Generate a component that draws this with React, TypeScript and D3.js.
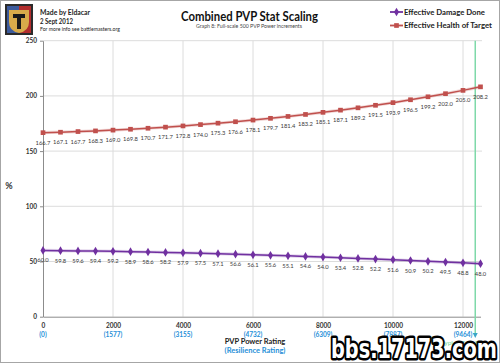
import React, { useEffect, useRef } from "react";
import * as d3 from "d3";

// PVP power rating steps of 500
const pvpPower = [
  0, 500, 1000, 1500, 2000, 2500, 3000, 3500, 4000, 4500, 5000, 5500, 6000,
  6500, 7000, 7500, 8000, 8500, 9000, 9500, 10000, 10500, 11000, 11500, 12000,
  12500,
];
const damageDone = [
  60.0, 59.8, 59.6, 59.4, 59.2, 58.9, 58.6, 58.2, 57.9, 57.5, 57.1, 56.6, 56.1,
  55.6, 55.1, 54.6, 54.0, 53.4, 52.8, 52.2, 51.6, 50.9, 50.2, 49.5, 48.8, 48.0,
];
const healthOfTarget = [
  166.7, 167.1, 167.7, 168.3, 169.0, 169.8, 170.7, 171.7, 172.8, 174.0, 175.3,
  176.6, 178.1, 179.7, 181.4, 183.2, 185.1, 187.1, 189.2, 191.5, 193.9, 196.5,
  199.2, 202.0, 205.0, 208.2,
];
const xTicks = [0, 2000, 4000, 6000, 8000, 10000, 12000];
const resilienceLabels = ["(0)", "(1577)", "(3155)", "(4732)", "(6309)", "(7887)", "(9464)"];
const yTicks = [0, 50, 100, 150, 200, 250];
const s12Max = 12350;

const W = 500;
const H = 363;
const FONT = "Lato, 'Open Sans', sans-serif";

const App = () => {
  const ref = useRef<HTMLDivElement>(null);

  useEffect(() => {
    document.body.style.margin = "0";
    d3.select(ref.current).selectAll("svg").remove();
    const svg = d3
      .select(ref.current)
      .append("svg")
      .attr("width", W)
      .attr("height", H)
      .style("display", "block")
      .style("font-family", FONT);

    svg.append("rect").attr("width", W).attr("height", H).attr("fill", "#fff");
    svg
      .append("rect")
      .attr("x", 0.5)
      .attr("y", 0.5)
      .attr("width", W - 1)
      .attr("height", H - 1)
      .attr("fill", "none")
      .attr("stroke", "#a6a6a6");

    const x = d3.scaleLinear().domain([0, 12500]).range([43, 480.5]);
    const y = d3.scaleLinear().domain([0, 250]).range([316.7, 40.7]);

    // gridlines
    svg
      .append("g")
      .selectAll("line")
      .data(yTicks.slice(1))
      .join("line")
      .attr("x1", x(0))
      .attr("x2", 482)
      .attr("y1", (d) => y(d))
      .attr("y2", (d) => y(d))
      .attr("stroke", "#dcdcdc")
      .attr("stroke-width", 1);
    svg
      .append("g")
      .selectAll("line")
      .data(xTicks.slice(1))
      .join("line")
      .attr("x1", (d) => x(d))
      .attr("x2", (d) => x(d))
      .attr("y1", y(0))
      .attr("y2", y(250))
      .attr("stroke", "#dcdcdc")
      .attr("stroke-width", 1);

    // axes
    const yAxis = svg
      .append("g")
      .attr("transform", `translate(${x(0)},0)`)
      .call(d3.axisLeft(y).tickValues(yTicks).tickSize(3).tickSizeOuter(0));
    yAxis.select(".domain").attr("stroke", "#8c8c8c");
    yAxis.selectAll(".tick line").attr("stroke", "#8c8c8c");
    yAxis
      .selectAll(".tick text")
      .attr("font-family", FONT)
      .attr("font-size", 6.5)
      .attr("font-weight", "bold")
      .attr("fill", "#333")
      .attr("x", -6);

    const xAxis = svg
      .append("g")
      .attr("transform", `translate(0,${y(0)})`)
      .call(
        d3
          .axisBottom(x)
          .tickValues(xTicks)
          .tickFormat(d3.format("d"))
          .tickSize(0)
          .tickSizeOuter(0)
      );
    xAxis.select(".domain").attr("stroke", "#8c8c8c");
    xAxis
      .selectAll(".tick text")
      .attr("font-family", FONT)
      .attr("font-size", 6.5)
      .attr("font-weight", "bold")
      .attr("fill", "#333")
      .attr("dy", 0)
      .attr("y", 11.5);

    svg
      .append("g")
      .selectAll("text")
      .data(xTicks)
      .join("text")
      .attr("x", (d) => x(d))
      .attr("y", y(0) + 20)
      .attr("text-anchor", "middle")
      .attr("font-size", 6.5)
      .attr("font-weight", "bold")
      .attr("fill", "#1f8fd8")
      .text((d, i) => resilienceLabels[i]);

    // S12 max marker
    svg
      .append("line")
      .attr("x1", x(s12Max))
      .attr("x2", x(s12Max))
      .attr("y1", y(250))
      .attr("y2", 335)
      .attr("stroke", "#7fd9a9")
      .attr("stroke-width", 1.5);
    svg
      .append("path")
      .attr(
        "d",
        `M${x(s12Max) - 2.5},333 L${x(s12Max) + 2.5},333 L${x(s12Max)},338 Z`
      )
      .attr("fill", "#3aa6c8");
    svg
      .append("text")
      .attr("x", 441)
      .attr("y", 345)
      .attr("font-size", 6.5)
      .attr("fill", "#6fd8a0")
      .text("Typical S12 Max");

    const pts = pvpPower.map((p, i) => ({ p, dmg: damageDone[i], hp: healthOfTarget[i] }));

    const drawSeries = (
      key: "dmg" | "hp",
      color: string,
      marker: d3.SymbolType,
      size: number
    ) => {
      const line = d3
        .line<any>()
        .x((d) => x(d.p))
        .y((d) => y(d[key]));
      svg
        .append("path")
        .datum(pts)
        .attr("d", line)
        .attr("fill", "none")
        .attr("stroke", color)
        .attr("stroke-opacity", 0.22)
        .attr("stroke-width", 3.2);
      svg
        .append("path")
        .datum(pts)
        .attr("d", line)
        .attr("fill", "none")
        .attr("stroke", color)
        .attr("stroke-width", 1.5);
      svg
        .append("g")
        .selectAll("path")
        .data(pts)
        .join("path")
        .attr("transform", (d) => `translate(${x(d.p)},${y(d[key])})`)
        .attr("d", d3.symbol().type(marker).size(size)())
        .attr("fill", color);
      svg
        .append("g")
        .selectAll("text")
        .data(pts)
        .join("text")
        .attr("x", (d) => x(d.p))
        .attr("y", (d) => y(d[key]) + 12)
        .attr("text-anchor", "middle")
        .attr("font-size", 5.8)
        .attr("fill", "#3a3a3a")
        .text((d) => d[key].toFixed(1));
    };

    drawSeries("hp", "#c0504d", d3.symbolSquare, 22);
    drawSeries("dmg", "#7030a0", d3.symbolDiamond, 22);

    // y axis title
    svg
      .append("text")
      .attr("x", 9)
      .attr("y", 189)
      .attr("text-anchor", "middle")
      .attr("font-size", 9)
      .attr("font-weight", "bold")
      .attr("fill", "#333")
      .text("%");

    // x axis title
    svg
      .append("text")
      .attr("x", 255)
      .attr("y", 344)
      .attr("text-anchor", "middle")
      .attr("font-size", 7.5)
      .attr("font-weight", "bold")
      .attr("fill", "#222")
      .text("PVP Power Rating");
    svg
      .append("text")
      .attr("x", 255)
      .attr("y", 353)
      .attr("text-anchor", "middle")
      .attr("font-size", 7.5)
      .attr("font-weight", "bold")
      .attr("fill", "#1f8fd8")
      .text("(Resilience Rating)");

    // title
    svg
      .append("text")
      .attr("x", 181)
      .attr("y", 21)
      .attr("font-size", 12.5)
      .attr("font-weight", "bold")
      .attr("fill", "#111")
      .attr("textLength", 137)
      .attr("lengthAdjust", "spacingAndGlyphs")
      .text("Combined PVP Stat Scaling");
    svg
      .append("text")
      .attr("x", 196)
      .attr("y", 27.5)
      .attr("font-size", 4.8)
      .attr("fill", "#444")
      .attr("textLength", 106)
      .attr("lengthAdjust", "spacingAndGlyphs")
      .text("Graph 8:  Full-scale 500 PVP Power increments");

    // header info
    const info = [
      { t: "Made by Eldacar", yy: 15, fs: 8, w: 50, bold: true },
      { t: "2 Sept 2012", yy: 24, fs: 8, w: 33, bold: true },
      { t: "For more info see battlemasters.org", yy: 31, fs: 5, w: 80, bold: false },
    ];
    svg
      .append("g")
      .selectAll("text")
      .data(info)
      .join("text")
      .attr("x", 40)
      .attr("y", (d) => d.yy)
      .attr("font-size", (d) => d.fs)
      .attr("font-weight", (d) => (d.bold ? "bold" : "normal"))
      .attr("fill", "#222")
      .attr("textLength", (d) => d.w)
      .attr("lengthAdjust", "spacingAndGlyphs")
      .text((d) => d.t);

    // logo
    const logo = svg.append("g");
    logo.append("rect").attr("x", 5).attr("y", 4).attr("width", 28).attr("height", 31).attr("fill", "#2b2b2b");
    logo.append("rect").attr("x", 7).attr("y", 6).attr("width", 12).attr("height", 27).attr("fill", "#3c5a9c");
    logo.append("rect").attr("x", 19).attr("y", 6).attr("width", 12).attr("height", 27).attr("fill", "#b22d2d");
    logo
      .append("path")
      .attr("d", "M9,10 L29,10 L29,22 Q29,31 19,33 Q9,31 9,22 Z")
      .attr("fill", "#d8ab4a");
    logo.append("path").attr("d", "M13,14 L25,14 L25,18 L21,18 L21,29 L17,29 L17,18 L13,18 Z").attr("fill", "#1a1a1a");

    // legend
    const legend = [
      { t: "Effective Damage Done", c: "#7030a0", m: d3.symbolDiamond, yy: 12, w: 81 },
      { t: "Effective Health of Target", c: "#c0504d", m: d3.symbolSquare, yy: 25.5, w: 88 },
    ];
    const lg = svg.append("g").selectAll("g").data(legend).join("g");
    lg.append("line")
      .attr("x1", 390)
      .attr("x2", 403)
      .attr("y1", (d) => d.yy)
      .attr("y2", (d) => d.yy)
      .attr("stroke", (d) => d.c)
      .attr("stroke-width", 1.8);
    lg.append("path")
      .attr("transform", (d) => `translate(396.5,${d.yy})`)
      .attr("d", (d) => d3.symbol().type(d.m).size(22)())
      .attr("fill", (d) => d.c);
    lg.append("text")
      .attr("x", 404)
      .attr("y", (d) => d.yy + 2.8)
      .attr("font-size", 8)
      .attr("font-weight", "bold")
      .attr("fill", "#222")
      .attr("textLength", (d) => d.w)
      .attr("lengthAdjust", "spacingAndGlyphs")
      .text((d) => d.t);

    // watermark
    svg
      .append("text")
      .attr("x", 331)
      .attr("y", 358)
      .attr("font-family", "'DejaVu Sans', sans-serif")
      .attr("font-size", 26)
      .attr("font-weight", "bold")
      .attr("fill", "#fff")
      .attr("stroke", "#000")
      .attr("stroke-width", 5)
      .attr("stroke-linejoin", "round")
      .attr("paint-order", "stroke")
      .attr("textLength", 166)
      .attr("lengthAdjust", "spacingAndGlyphs")
      .text("bbs.17173.com");
  }, []);

  return <div ref={ref}></div>;
};

export default App;
